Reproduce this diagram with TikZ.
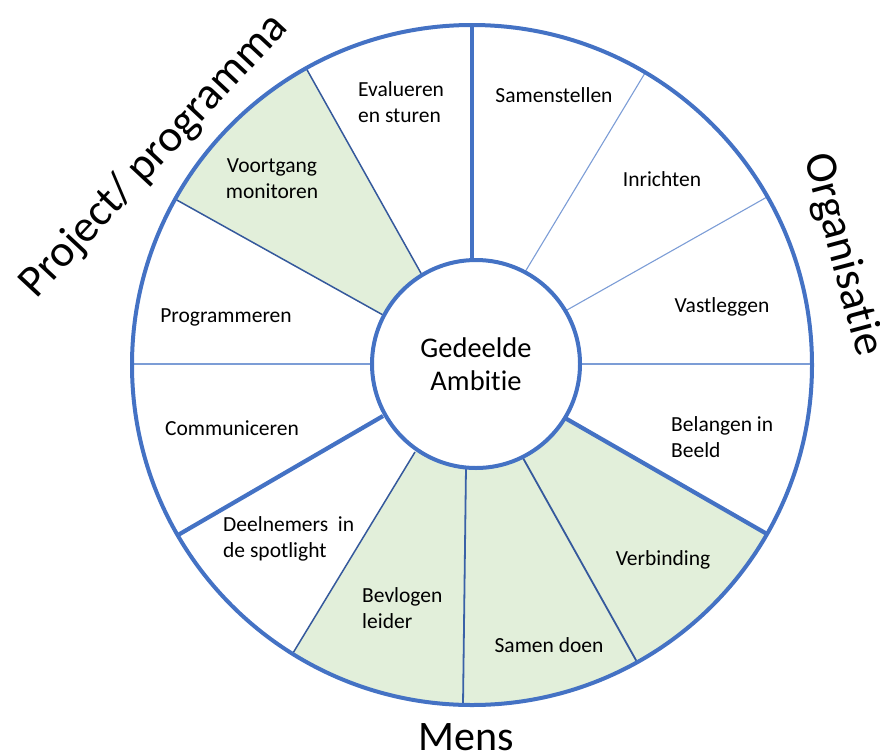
\documentclass[tikz,border=0pt]{standalone}
\usepackage{fontspec}
\setmainfont{Carlito}[Ligatures=NoCommon]
\usetikzlibrary{calc}
\definecolor{ringblue}{HTML}{4472C4}
\definecolor{darkspoke}{HTML}{35599C}
\definecolor{lightspoke}{HTML}{7C9DD6}
\definecolor{segfill}{HTML}{E2EFDA}
\begin{document}
\begin{tikzpicture}[x=1pt,y=-1pt,
  ring/.style={draw=ringblue,line width=4pt},
  thickspoke/.style={draw=ringblue,line width=4.2pt},
  midspoke/.style={draw=darkspoke,line width=1.8pt},
  thinspoke/.style={draw=lightspoke,line width=1.1pt},
  lbl/.style={font=\fontsize{21.5}{26}\selectfont,inner sep=0pt,anchor=base},
  lbll/.style={lbl,align=left,anchor=base west},
  lblc/.style={lbl,align=center},
  big/.style={font=\fontsize{#1}{#1}\selectfont,inner sep=0pt,anchor=base}]
\useasboundingbox (0,0) rectangle (880,753);
\coordinate (C) at (472,365);
\coordinate (I) at (476,364);
\coordinate (i1) at (472,262);  \coordinate (o1) at (472,24);
\coordinate (i2) at (525,272);  \coordinate (o2) at (645,73);
\coordinate (i3) at (567,310);  \coordinate (o3) at (767,197);
\coordinate (i4) at (580,364);  \coordinate (o4) at (812,364);
\coordinate (i5) at (565,418);  \coordinate (o5) at (767,534);
\coordinate (i6) at (523,458);  \coordinate (o6) at (637,662);
\coordinate (i7) at (466,467);  \coordinate (o7) at (463,705);
\coordinate (i8) at (415,452);  \coordinate (o8) at (293,653);
\coordinate (i9) at (383,416);  \coordinate (o9) at (178,535);
\coordinate (i10) at (373,364); \coordinate (o10) at (132,364);
\coordinate (i11) at (383,315); \coordinate (o11) at (175,199);
\coordinate (i12) at (422,275); \coordinate (o12) at (306,68);
% green segments
\begin{scope}
  \clip (C) circle[radius=340pt];
  \fill[segfill] (I) -- (i11) -- ($(i11)!1.3!(o11)$) -- ($(i12)!1.3!(o12)$) -- (i12) -- cycle;
  \fill[segfill] (I) -- (i5) -- ($(i5)!1.3!(o5)$) -- (800,800) -- (470,800) -- ($(i8)!1.3!(o8)$) -- (i8) -- cycle;
\end{scope}
% spokes
\draw[thickspoke] (i1) -- (o1);
\draw[thinspoke] (i2) -- (o2);
\draw[thinspoke] (i3) -- (o3);
\draw[thinspoke] (i4) -- (o4);
\draw[thickspoke] (i5) -- (o5);
\draw[midspoke] (i6) -- (o6);
\draw[midspoke,draw=ringblue!85!black] (i7) -- (o7);
\draw[midspoke,line width=1.5pt] (i8) -- (o8);
\draw[thickspoke] (i9) -- (o9);
\draw[thinspoke] (i10) -- (o10);
\draw[midspoke,line width=1.5pt] (i11) -- (o11);
\draw[midspoke,line width=1.5pt] (i12) -- (o12);
% rings
\draw[ring] (C) circle[radius=340pt];
\draw[ring,fill=white] (I) circle[radius=104pt];
% labels
\node[lblc,font=\fontsize{28.5}{33}\selectfont] (center) at (476,390) {Gedeelde\\Ambitie};
\node[lbl] (samenstellen) at (554,102) {Samenstellen};
\node[lbl] (inrichten) at (662,186) {Inrichten};
\node[lbl] (vastleggen) at (722,312) {Vastleggen};
\node[lbll] (belangen) at (671,457) {Belangen in\\Beeld};
\node[lbl] (verbinding) at (663,565) {Verbinding};
\node[lbl] (samendoen) at (549,652) {Samen doen};
\node[lbll] (bevlogen) at (362,628) {Bevlogen\\leider};
\node[lbll] (deelnemers) at (223,557) {Deelnemers\ \ in\\de spotlight};
\node[lbl] (communiceren) at (232,435) {Communiceren};
\node[lbl] (programmeren) at (226,322) {Programmeren};
\node[lblc] (voortgang) at (272,198) {Voortgang\\monitoren};
\node[lbll] (evalueren) at (358,122) {Evalueren\\en sturen};
\node[big=42] (mens) at (466,750) {Mens};
\node[big=45,rotate=-75] (organisatie) at (831,258) {Organisatie};
\node[big=45,rotate=47] (project) at (163,164) {Project/ programma};
\end{tikzpicture}
\end{document}
